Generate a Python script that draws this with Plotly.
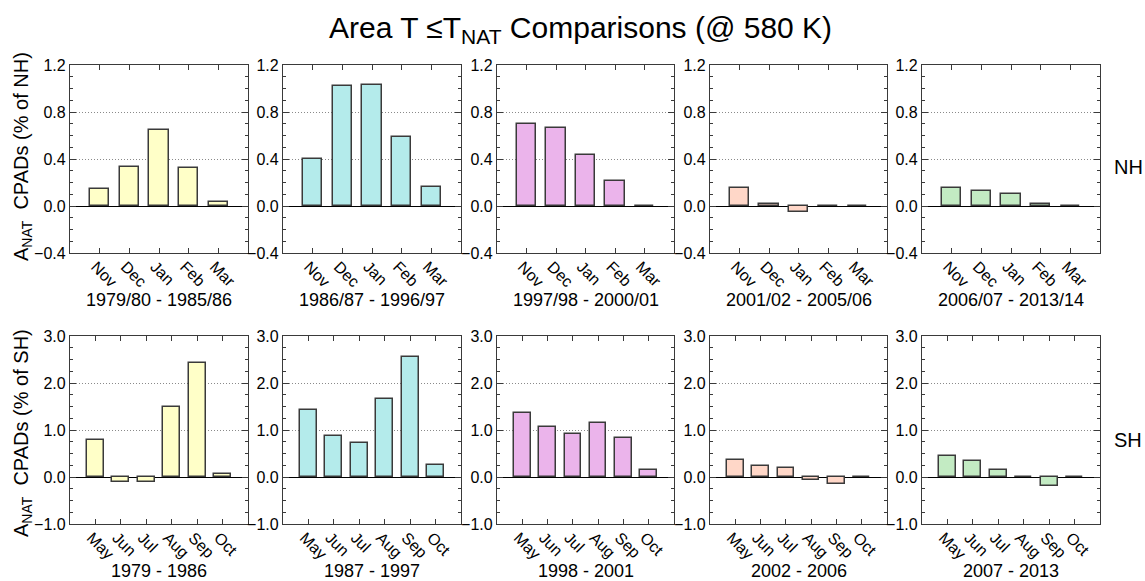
import plotly.graph_objects as go

# ---------------- data ----------------
nh_months = ["Nov", "Dec", "Jan", "Feb", "Mar"]
sh_months = ["May", "Jun", "Jul", "Aug", "Sep", "Oct"]

nh_periods = ["1979/80 - 1985/86", "1986/87 - 1996/97", "1997/98 - 2000/01",
              "2001/02 - 2005/06", "2006/07 - 2013/14"]
sh_periods = ["1979 - 1986", "1987 - 1997", "1998 - 2001", "2002 - 2006", "2007 - 2013"]

nh_p1 = [0.145, 0.33, 0.65, 0.32, 0.03]
nh_p2 = [0.40, 1.02, 1.03, 0.59, 0.165]
nh_p3 = [0.70, 0.665, 0.435, 0.21, 0.003]
nh_p4 = [0.15, 0.015, -0.055, 0.003, 0.002]
nh_p5 = [0.15, 0.125, 0.10, 0.02, 0.003]

sh_p1 = [0.79, -0.11, -0.11, 1.48, 2.43, 0.06]
sh_p2 = [1.425, 0.88, 0.715, 1.65, 2.56, 0.25]
sh_p3 = [1.37, 1.06, 0.91, 1.14, 0.835, 0.155]
sh_p4 = [0.355, 0.23, 0.185, -0.07, -0.155, 0.005]
sh_p5 = [0.45, 0.33, 0.155, -0.01, -0.185, -0.01]

colors = ["#FFFFC8", "#B4EBEB", "#EBB4EB", "#FFD7C8", "#C3EBC3"]

nh_values = [nh_p1, nh_p2, nh_p3, nh_p4, nh_p5]
sh_values = [sh_p1, sh_p2, sh_p3, sh_p4, sh_p5]

# ---------------- layout geometry (pixels) ----------------
W, H = 1145, 581
panel_x = [(70, 248), (283, 461), (497, 674), (710, 887), (922, 1100)]
nh_y = (65, 253)
sh_y = (336, 524)

FONT = "Liberation Sans, Arial, Helvetica, sans-serif"
FRAME = "#3a3a3a"

fig = go.Figure()
layout = {}
annotations = []


def ydom(py):
    return [1 - py[1] / H, 1 - py[0] / H]


idx = 0
for row, (months, values, periods, yr, yrange, dt, mdt) in enumerate([
        (nh_months, nh_values, nh_periods, nh_y, [-0.4, 1.2], 0.4, 0.1),
        (sh_months, sh_values, sh_periods, sh_y, [-1.0, 3.0], 1.0, 0.25)]):
    for col in range(5):
        idx += 1
        xa = "x" if idx == 1 else f"x{idx}"
        ya = "y" if idx == 1 else f"y{idx}"
        fig.add_trace(go.Bar(
            x=months, y=values[col], xaxis=xa, yaxis=ya,
            width=0.66,
            marker=dict(color=colors[col], line=dict(color=FRAME, width=1.5)),
            showlegend=False,
        ))
        px0, px1 = panel_x[col]
        layout["xaxis" if idx == 1 else f"xaxis{idx}"] = dict(
            domain=[px0 / W, px1 / W], anchor=ya, automargin=False,
            type="category", categoryorder="array", categoryarray=months,
            range=[-1, len(months)],
            showline=True, linecolor=FRAME, linewidth=1.2, mirror="allticks",
            ticks="inside", ticklen=5, tickcolor=FRAME,
            tickangle=45, ticklabelshift=-4, ticklabelstandoff=-3,
            tickfont=dict(size=16, color="black", family=FONT),
            showgrid=False, zeroline=False, fixedrange=True,
        )
        layout["yaxis" if idx == 1 else f"yaxis{idx}"] = dict(
            domain=ydom(yr), anchor=xa, automargin=False,
            range=yrange, dtick=dt, tick0=0, tickformat=".1f",
            showline=True, linecolor=FRAME, linewidth=1.2, mirror="allticks",
            ticks="inside", ticklen=6, tickcolor=FRAME,
            minor=dict(ticks="inside", ticklen=3, dtick=mdt, tick0=0,
                       tickcolor=FRAME, showgrid=False),
            tickfont=dict(size=16, color="black", family=FONT),
            showgrid=True, gridcolor="#8a8a8a", griddash="1px,2px", gridwidth=1,
            zeroline=True, zerolinecolor="black", zerolinewidth=1.2,
            fixedrange=True,
        )
        annotations.append(dict(
            text=periods[col], xref="paper", yref="paper",
            x=(px0 + px1) / 2 / W, y=1 - (yr[1] + 47) / H,
            xanchor="center", yanchor="middle", showarrow=False,
            font=dict(size=18, color="black", family=FONT)))

# hemisphere labels
annotations.append(dict(text="NH", xref="paper", yref="paper", x=1128 / W, y=1 - 167 / H,
                        xanchor="center", yanchor="middle", showarrow=False,
                        font=dict(size=20, color="black", family=FONT)))
annotations.append(dict(text="SH", xref="paper", yref="paper", x=1128 / W, y=1 - 440 / H,
                        xanchor="center", yanchor="middle", showarrow=False,
                        font=dict(size=20, color="black", family=FONT)))
# y-axis titles
annotations.append(dict(text="A<sub>NAT</sub>  CPADs (% of NH)", xref="paper", yref="paper",
                        x=22 / W, y=1 - 157 / H, textangle=-90,
                        xanchor="center", yanchor="middle", showarrow=False,
                        font=dict(size=20, color="black", family=FONT)))
annotations.append(dict(text="A<sub>NAT</sub>  CPADs (% of SH)", xref="paper", yref="paper",
                        x=22 / W, y=1 - 433 / H, textangle=-90,
                        xanchor="center", yanchor="middle", showarrow=False,
                        font=dict(size=20, color="black", family=FONT)))
# title
annotations.append(dict(text="Area T \u2264T<sub>NAT</sub> Comparisons (@ 580 K)", xref="paper", yref="paper",
                        x=580 / W, y=1 - 29 / H,
                        xanchor="center", yanchor="middle", showarrow=False,
                        font=dict(size=30, color="black", family=FONT)))

fig.update_layout(
    width=W, height=H, margin=dict(l=0, r=0, t=0, b=0, pad=0),
    paper_bgcolor="white", plot_bgcolor="white",
    annotations=annotations, bargap=0,
    **layout,
)

fig.write_html("out.html")
